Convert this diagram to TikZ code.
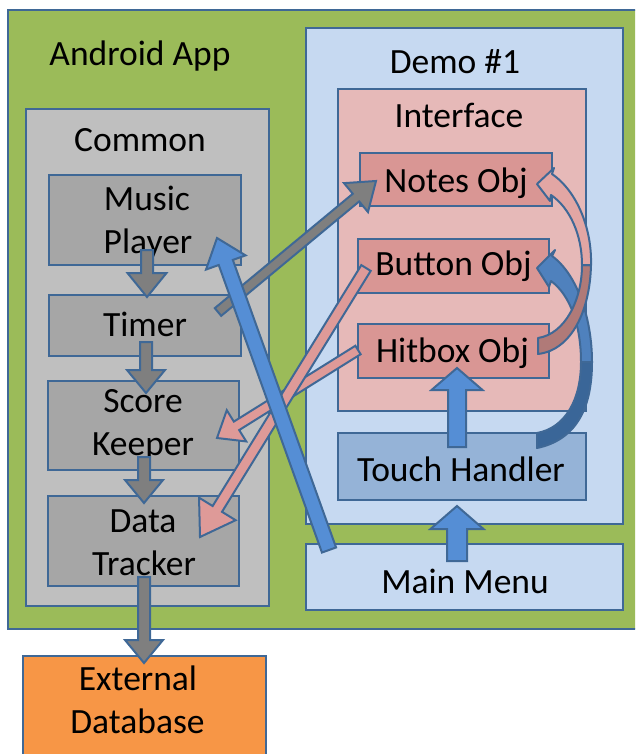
\documentclass[tikz,border=0pt]{standalone}
\usepackage{fontspec}
\setmainfont{Carlito}
\usetikzlibrary{calc}
\definecolor{bd}{HTML}{3F6896}
\definecolor{appgreen}{HTML}{9BBB59}
\definecolor{commongray}{HTML}{BFBFBF}
\definecolor{boxgray}{HTML}{A6A6A6}
\definecolor{arrgray}{HTML}{7F7F7F}
\definecolor{demoblue}{HTML}{C6D9F1}
\definecolor{ifpink}{HTML}{E6B9B8}
\definecolor{objpink}{HTML}{D99694}
\definecolor{touchblue}{HTML}{95B3D7}
\definecolor{extorange}{HTML}{F79646}
\definecolor{arrblue}{HTML}{558ED5}
\definecolor{arrpink}{HTML}{DE9A98}
\definecolor{pinkdark}{HTML}{B07A78}
\definecolor{pinklight}{HTML}{E2A6A4}
\definecolor{bluedark}{HTML}{3A6698}
\definecolor{bluemid}{HTML}{4F81BD}
\newcommand{\myblockarrow}[6]{%
  \coordinate (bah) at ($(#3)!#6!(#2)$);
  \draw[#1] ($(#2)!#4!90:(#3)$) -- ($(bah)!#4!90:(#3)$) -- ($(bah)!#5!90:(#3)$) -- (#3) -- ($(bah)!#5!-90:(#3)$) -- ($(bah)!#4!-90:(#3)$) -- ($(#2)!#4!-90:(#3)$) -- cycle;
}
\begin{document}
\begin{tikzpicture}[x=1pt,y=-1pt,
  box/.style={draw=bd, line width=2pt, inner sep=0pt, anchor=north west},
  lbl/.style={anchor=base, inner sep=0pt, font=\fontsize{35.5}{42}\selectfont},
  grayarr/.style={fill=arrgray, draw=bd, line width=2pt},
  bluearr/.style={fill=arrblue, draw=bd, line width=2pt},
  pinkarr/.style={fill=arrpink, draw=bd, line width=2pt},
  curve/.style={draw=bd, line width=2pt, line join=round}]
\useasboundingbox (0,0) rectangle (635,754);
\clip (0,0) rectangle (635,754);
% containers
\node[box, fill=appgreen, minimum width=700pt, minimum height=619pt] (app) at (7,9) {};
\node[box, fill=commongray, minimum width=243pt, minimum height=497pt] (common) at (25,108) {};
\node[box, fill=boxgray, minimum width=192pt, minimum height=90pt] (music) at (48,174) {};
\node[box, fill=boxgray, minimum width=192pt, minimum height=61pt] (timer) at (48,294) {};
\node[box, fill=boxgray, minimum width=191pt, minimum height=89pt] (score) at (47,380) {};
\node[box, fill=boxgray, minimum width=191pt, minimum height=90pt] (data) at (47,495) {};
\node[box, fill=extorange, minimum width=243pt, minimum height=115pt] (ext) at (22,655) {};
\node[box, fill=demoblue, minimum width=317pt, minimum height=496pt] (demo) at (305,27) {};
\node[box, fill=demoblue, minimum width=317pt, minimum height=66pt] (menu) at (305,543) {};
\node[box, fill=ifpink, minimum width=248pt, minimum height=322pt] (iface) at (337,88) {};
\node[box, fill=objpink, minimum width=192pt, minimum height=53pt] (notes) at (359,152) {};
\node[box, fill=objpink, minimum width=191pt, minimum height=54pt] (button) at (357,238) {};
\node[box, fill=objpink, minimum width=191pt, minimum height=54pt] (hitbox) at (357,323) {};
\node[box, fill=touchblue, minimum width=248pt, minimum height=67pt] (touch) at (337,432) {};
% labels
\node[lbl] (tapp) at (140,66) {Android App};
\node[lbl] (tcommon) at (140,152) {Common};
\node[lbl] (tmusic1) at (147,210) {Music};
\node[lbl] (tmusic2) at (148,253) {Player};
\node[lbl] (ttimer) at (145,336) {Timer};
\node[lbl] (tscore1) at (143,412) {Score};
\node[lbl] (tscore2) at (143,455) {Keeper};
\node[lbl] (tdata1) at (143,532) {Data};
\node[lbl] (tdata2) at (144,575) {Tracker};
\node[lbl] (text1) at (138,690) {External};
\node[lbl] (text2) at (137.5,733) {Database};
\node[lbl] (tdemo) at (455,74) {Demo \#1};
\node[lbl] (tiface) at (459,128) {Interface};
\node[lbl] (tnotes) at (456,192) {Notes Obj};
\node[lbl] (tbutton) at (453.5,275) {Button Obj};
\node[lbl] (thitbox) at (452.5,362) {Hitbox Obj};
\node[lbl] (ttouch) at (461,481) {Touch Handler};
\node[lbl] (tmenu) at (465,593) {Main Menu};
% arrow end points
\coordinate (a1s) at (147,250); \coordinate (a1e) at (147,297);
\coordinate (a2s) at (146,342); \coordinate (a2e) at (146,393);
\coordinate (a3s) at (144,457); \coordinate (a3e) at (144,503);
\coordinate (a4s) at (144,577); \coordinate (a4e) at (144,663);
\coordinate (a5s) at (457,447); \coordinate (a5e) at (457,368);
\coordinate (a6s) at (457,561); \coordinate (a6e) at (457,506);
\coordinate (a7s) at (329,550); \coordinate (a7e) at (217,238);
\coordinate (a8s) at (218,312); \coordinate (a8e) at (376,181);
\coordinate (a9s) at (366,268); \coordinate (a9e) at (200,537);
\coordinate (a10s) at (358,350); \coordinate (a10e) at (217,438);
% straight block arrows
\myblockarrow{grayarr}{a1s}{a1e}{6pt}{19.5pt}{24pt}
\myblockarrow{grayarr}{a2s}{a2e}{6pt}{19pt}{23pt}
\myblockarrow{grayarr}{a3s}{a3e}{6pt}{19pt}{23pt}
\myblockarrow{grayarr}{a4s}{a4e}{6pt}{19pt}{23pt}
\myblockarrow{bluearr}{a5s}{a5e}{9pt}{25.5pt}{22pt}
\myblockarrow{bluearr}{a6s}{a6e}{10pt}{26.5pt}{23pt}
\myblockarrow{grayarr}{a8s}{a8e}{5pt}{18.8pt}{26pt}
\myblockarrow{pinkarr}{a10s}{a10e}{5pt}{18.4pt}{23pt}
\myblockarrow{pinkarr}{a9s}{a9e}{5.5pt}{21.5pt}{33pt}
\myblockarrow{bluearr}{a7s}{a7e}{7.5pt}{21pt}{26pt}
% curved blue arrow: Touch Handler -> Button Obj
\draw[curve, fill=bluedark] (592,362) .. controls (592,410) and (575,440) .. (537,448)
  -- (537,433) .. controls (565,428) and (581,400) .. (581,362) -- cycle;
\draw[curve, fill=bluemid] (592,362) .. controls (592,320) and (578,275) .. (552,256)
  -- (555,250) -- (537,268) -- (549,287) -- (551,281)
  .. controls (570,295) and (581,325) .. (581,362) -- cycle;
% curved pink arrow: Hitbox Obj -> Notes Obj
\draw[curve, fill=pinkdark] (591,265) .. controls (590,310) and (572,350) .. (538,354)
  -- (538,338) .. controls (565,334) and (582,300) .. (582,265) -- cycle;
\draw[curve, fill=pinklight] (591,265) .. controls (592,230) and (578,192) .. (552,174)
  -- (554,168) -- (537,184) -- (550,201) -- (551,195)
  .. controls (570,208) and (582,235) .. (582,265) -- cycle;
\end{tikzpicture}
\end{document}
